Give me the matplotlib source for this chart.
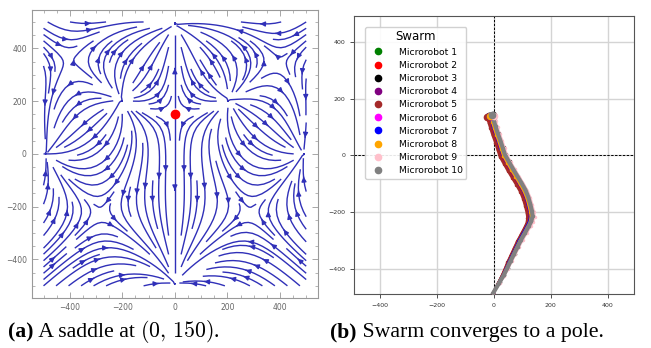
import numpy as np
import matplotlib
matplotlib.use("Agg")
import matplotlib.pyplot as plt
from matplotlib.lines import Line2D
from matplotlib.ticker import MultipleLocator

# ---------------- data ----------------
# (a) vector field: sinks (poles) and sources, with weights
sink_x = [0.0, 0.0, 490.0, -490.0]
sink_y = [490.0, -490.0, 0.0, 0.0]
sink_w = [1.6844, 0.9863, 1.0, 1.0]
source_x = [205.0, -205.0]
source_y = [205.0, 205.0]
source_w = [0.9298, 0.9298]
saddle_point = (0.0, 150.0)

# (b) swarm trajectories: central path and per-robot offsets
path_x = [-12, -6, 0, 8, 17, 25, 33, 47, 61, 76, 91, 105, 115, 122, 128, 130, 126, 118, 105, 91, 79, 67, 55, 44, 32, 18, -2]
path_y = [139, 120, 100, 75, 50, 25, 0, -25, -50, -75, -100, -125, -150, -175, -200, -217, -235, -251, -275, -300, -325, -350, -375, -400, -425, -450, -486]
spread = [1.0]*16 + [0.9, 0.85, 0.8, 0.75, 0.7, 0.65, 0.6, 0.5, 0.4, 0.25, 0.0]
robot_names = [f"Microrobot {i}" for i in range(1, 11)]
robot_colors = ['green', 'red', 'black', 'purple', 'brown', 'magenta', 'blue', 'orange', 'pink', 'gray']
robot_dx = [-6, -9, 9, -4, -12, 3, -2, 0, 13, 6]
robot_dy = [0, -3, 3, 0, -5, 0, 1, -2, 0, 2]
ticks = [-400, -200, 0, 200, 400]


def field(X, Y):
    U = np.zeros_like(X, dtype=float)
    V = np.zeros_like(Y, dtype=float)
    for x0, y0, w in zip(sink_x, sink_y, sink_w):
        dx = X - x0; dy = Y - y0; r2 = dx*dx + dy*dy
        U -= w*dx/r2; V -= w*dy/r2
    for x0, y0, w in zip(source_x, source_y, source_w):
        dx = X - x0; dy = Y - y0; r2 = dx*dx + dy*dy
        U += w*dx/r2; V += w*dy/r2
    return U, V


fig = plt.figure(figsize=(6.51, 3.48), dpi=100)

# ---------------- (a) stream plot ----------------
ax1 = fig.add_axes([0.0487, 0.1445, 0.4398, 0.8265])
xs = np.linspace(-500, 500, 181)
X, Y = np.meshgrid(xs, xs)
U, V = field(X, Y)
ax1.streamplot(X, Y, U, V, density=1.45, color='#3030b8', linewidth=1.0, arrowsize=0.7)
ax1.plot([saddle_point[0]], [saddle_point[1]], 'o', color='red', ms=6, zorder=5)
ax1.set_xlim(-545, 545)
ax1.set_ylim(-545, 545)
ax1.set_xticks(ticks); ax1.set_yticks(ticks)
ax1.set_xticklabels([str(t).replace('-', '\u2212') for t in ticks])
ax1.set_yticklabels([str(t).replace('-', '\u2212') for t in ticks])
ax1.xaxis.set_minor_locator(MultipleLocator(50))
ax1.yaxis.set_minor_locator(MultipleLocator(50))
ax1.tick_params(which='both', direction='in', top=True, right=True, colors='#999999',
                labelcolor='#666666', labelsize=5.5)
ax1.tick_params(which='major', length=4, width=0.6)
ax1.tick_params(which='minor', length=2.5, width=0.5)
for s in ax1.spines.values():
    s.set_color('#999999'); s.set_linewidth(0.8)

# ---------------- (b) swarm ----------------
ax2 = fig.add_axes([0.544, 0.1543, 0.430, 0.8007])
px = np.array(path_x, float); py = np.array(path_y, float); sp = np.array(spread)
for name, c, dx, dy in zip(robot_names, robot_colors, robot_dx, robot_dy):
    lw = 3.0 if c == 'gray' else 1.8
    ax2.plot(px + dx*sp, py + dy*sp, '-', color=c, lw=lw, marker='.', ms=3, zorder=3)
    ax2.plot(px[0] + dx, py[0] + dy, 'o', color=c, ms=4.5, zorder=4)
ax2.axhline(0, color='black', ls='--', lw=0.7, dashes=(2.5, 1.5))
ax2.axvline(0, color='black', ls='--', lw=0.7, dashes=(2.5, 1.5))
ax2.set_xlim(-490, 492)
ax2.set_ylim(-491, 493)
ax2.set_xticks(ticks); ax2.set_yticks(ticks)
ax2.grid(True, color='#d4d4d4', lw=1.0)
ax2.set_axisbelow(True)
ax2.tick_params(labelsize=4.5, length=3, width=0.6, colors='#333333')
for s in ax2.spines.values():
    s.set_color('#555555'); s.set_linewidth(0.8)
handles = [Line2D([], [], marker='o', ls='', color=c, ms=4.5) for c in robot_colors]
ax2.legend(handles, robot_names, title='Swarm', loc='upper left',
           bbox_to_anchor=(11/280, 1 - 11/278.6), borderaxespad=0, fontsize=6.7,
           title_fontsize=8.5, handletextpad=1.2, labelspacing=0.45, framealpha=0.9)


# ---------------- captions ----------------
def caption(x, y, parts):
    r = fig.canvas.get_renderer()
    for txt, kw in parts:
        t = fig.text(x, y, txt, ha='left', va='baseline', fontsize=15.7, **kw)
        bb = t.get_window_extent(renderer=r)
        x = x + bb.width/fig.bbox.width


serif = dict(family='Liberation Serif')
bold = dict(family='Liberation Serif', weight='bold')
caption(8/651, 1 - 337/348, [("(a)", bold), (" A saddle at ", serif),
                               (r"$(0,\,150)$", dict(math_fontfamily='cm')), (".", serif)])
caption(330/651, 1 - 337/348, [("(b)", bold), (" Swarm converges to a pole.", serif)])

fig.savefig("out.png", dpi=100)
